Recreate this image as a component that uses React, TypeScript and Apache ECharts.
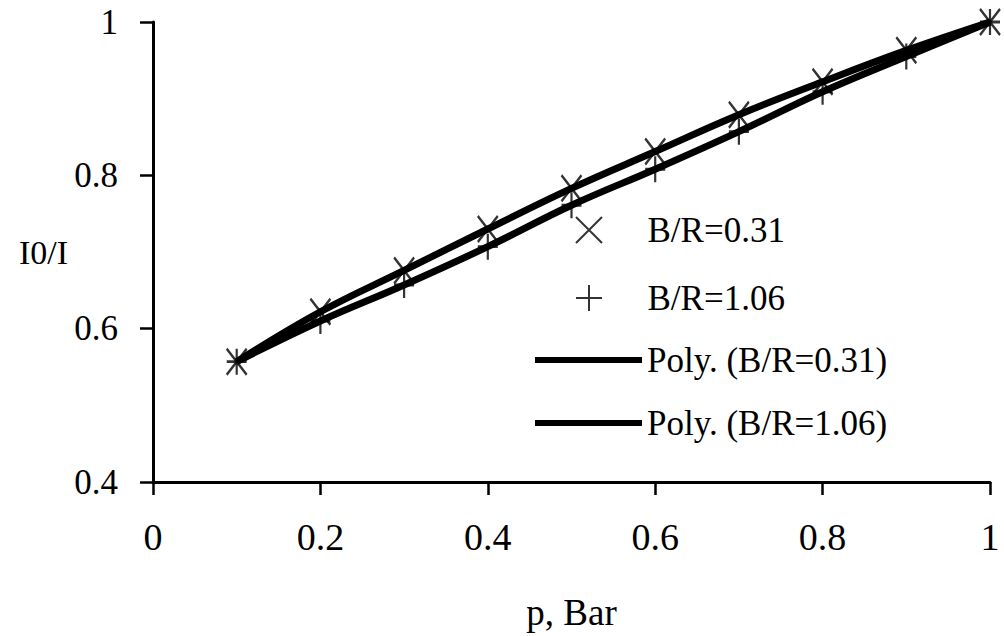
import React, { useEffect, useRef } from "react";
import * as echarts from "echarts";

const pressure = [0.1, 0.2, 0.3, 0.4, 0.5, 0.6, 0.7, 0.8, 0.9, 1.0];
const ratio031 = [0.557, 0.622, 0.676, 0.73, 0.783, 0.831, 0.879, 0.922, 0.963, 1.0];
const ratio106 = [0.557, 0.61, 0.657, 0.707, 0.761, 0.808, 0.857, 0.909, 0.955, 1.0];

const markerNames = ["B/R=0.31", "B/R=1.06"];
const trendNames = ["Poly. (B/R=0.31)", "Poly. (B/R=1.06)"];
const xAxisName = "p, Bar";
const yAxisName = "I0/I";

const FONT = "Liberation Serif";

export default function App() {
  const ref = useRef<HTMLDivElement>(null);

  useEffect(() => {
    if (!ref.current) return;
    const chart = echarts.init(ref.current, null, { renderer: "svg" });
    const pts031 = pressure.map((p, i) => [p, ratio031[i]]);
    const pts106 = pressure.map((p, i) => [p, ratio106[i]]);

    const crossPath = "path://M0,0L10,10M10,0L0,10";
    const plusPath = "path://M5,0L5,10M0,5L10,5";

    const legendText = {
      fontFamily: FONT,
      fontSize: 35,
      color: "#000",
      lineHeight: 40,
    };

    chart.setOption({
      animation: false,
      backgroundColor: "#ffffff",
      color: ["#000000"],
      textStyle: { fontFamily: FONT, color: "#000" },
      grid: {
        left: 153,
        right: 14,
        top: 22,
        bottom: 154,
        containLabel: false,
        outerBoundsMode: "none",
      },
      legend: [
        {
          orient: "vertical",
          left: 575,
          top: 210,
          padding: 0,
          itemWidth: 107,
          itemHeight: 26,
          itemGap: 28,
          textStyle: legendText,
          data: markerNames,
        },
        {
          orient: "vertical",
          left: 535,
          top: 340,
          padding: 0,
          itemWidth: 107,
          itemHeight: 6,
          itemGap: 23,
          icon: "rect",
          textStyle: legendText,
          data: trendNames,
        },
      ],
      xAxis: {
        type: "value",
        min: 0,
        max: 1,
        interval: 0.2,
        name: xAxisName,
        nameLocation: "middle",
        nameGap: 112,
        nameMoveOverlap: false,
        nameTextStyle: { fontFamily: FONT, fontSize: 37, color: "#000" },
        axisLine: { show: true, onZero: false, lineStyle: { color: "#000", width: 3 } },
        axisTick: { show: true, inside: false, length: 13, lineStyle: { color: "#000", width: 2.5 } },
        axisLabel: { margin: 36, fontFamily: FONT, fontSize: 38, color: "#000" },
        splitLine: { show: false },
      },
      yAxis: {
        type: "value",
        min: 0.4,
        max: 1,
        interval: 0.2,
        name: yAxisName,
        nameLocation: "middle",
        nameRotate: 0,
        nameGap: 85,
        nameMoveOverlap: false,
        nameTextStyle: { fontFamily: FONT, fontSize: 34, color: "#000" },
        axisLine: { show: true, onZero: false, lineStyle: { color: "#000", width: 3 } },
        axisTick: { show: true, inside: false, length: 13, lineStyle: { color: "#000", width: 2.5 } },
        axisLabel: { margin: 35, fontFamily: FONT, fontSize: 35, color: "#000" },
        splitLine: { show: false },
      },
      series: [
        {
          name: markerNames[0],
          type: "scatter",
          data: pts031,
          symbol: crossPath,
          symbolSize: [20, 26],
          itemStyle: { color: "transparent", borderColor: "#000", borderWidth: 2.5 },
          z: 4,
        },
        {
          name: markerNames[1],
          type: "scatter",
          data: pts106,
          symbol: plusPath,
          symbolSize: [20, 26],
          itemStyle: { color: "transparent", borderColor: "#000", borderWidth: 2.5 },
          z: 4,
        },
        {
          name: trendNames[0],
          type: "line",
          data: pts031,
          smooth: 0.4,
          symbol: "none",
          lineStyle: { color: "#000", width: 7 },
          itemStyle: { color: "#000" },
          z: 2,
        },
        {
          name: trendNames[1],
          type: "line",
          data: pts106,
          smooth: 0.4,
          symbol: "none",
          lineStyle: { color: "#000", width: 7 },
          itemStyle: { color: "#000" },
          z: 2,
        },
      ],
    });
    return () => chart.dispose();
  }, []);

  return (
    <div
      ref={ref}
      style={{ position: "absolute", left: 0, top: 0, width: 1004, height: 636, background: "#fff" }}
    />
  );
}
